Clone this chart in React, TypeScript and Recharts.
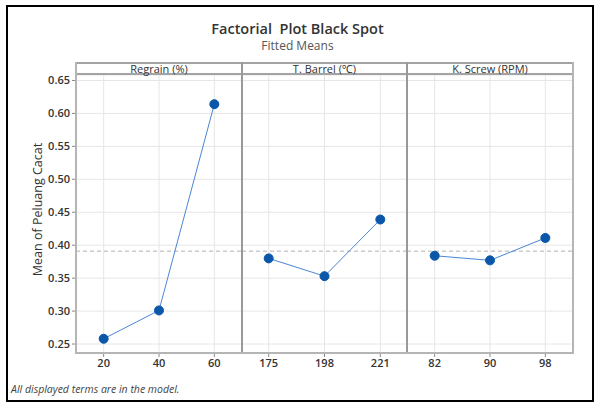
import { LineChart, Line, XAxis, YAxis, CartesianGrid, ReferenceLine } from 'recharts';

// factor levels and fitted means
const regrainLevels = [20, 40, 60];
const regrainMeans = [0.258, 0.301, 0.614];
const barrelLevels = [175, 198, 221];
const barrelMeans = [0.38, 0.353, 0.439];
const screwLevels = [82, 90, 98];
const screwMeans = [0.384, 0.377, 0.411];
const overallMean = 0.391;
const yTicks = [0.25, 0.3, 0.35, 0.4, 0.45, 0.5, 0.55, 0.6, 0.65];

const FONT = '"Open Sans", "Noto Sans", sans-serif';
const Y_DOMAIN: [number, number] = [0.2364, 0.6583];
const PLOT_TOP = 75;
const PLOT_H = 278;
const XAXIS_H = 26;
const PAD_TOP = 10;
const FRAME = '#a3a3a3';

type PanelProps = {
  levels: number[];
  means: number[];
  domain: [number, number];
  left: number;
  plotWidth: number;
  showY?: boolean;
};

const tickStyle = { fontSize: 11, fontWeight: 600, fill: '#333', fontFamily: FONT };

const Panel = ({ levels, means, domain, left, plotWidth, showY }: PanelProps) => {
  const data = levels.map((lv, i) => ({ x: lv, y: means[i] }));
  const yw = showY ? 49 : 0;
  return (
    <div style={{ position: 'absolute', left: left - yw, top: PLOT_TOP - PAD_TOP }}>
      <LineChart
        width={plotWidth + yw}
        height={PLOT_H + XAXIS_H + PAD_TOP}
        data={data}
        margin={{ top: PAD_TOP, right: 0, bottom: 0, left: 0 }}
      >
        <CartesianGrid stroke="#e6e6e6" strokeWidth={1} />
        <XAxis
          dataKey="x"
          type="number"
          domain={domain}
          ticks={levels}
          axisLine={false}
          tickLine={{ stroke: '#888' }}
          tickSize={4}
          height={XAXIS_H}
          tick={tickStyle}
          interval={0}
        />
        <YAxis
          type="number"
          domain={Y_DOMAIN}
          ticks={yTicks}
          hide={!showY}
          width={yw}
          axisLine={false}
          tickLine={{ stroke: '#888' }}
          tickSize={4}
          tick={tickStyle}
          tickFormatter={(v: number) => v.toFixed(2)}
          allowDataOverflow
        />
        <ReferenceLine y={overallMean} stroke="#b0b0b0" strokeDasharray="4 3" strokeWidth={1} />
        <Line
          dataKey="y"
          stroke="#4a86d8"
          strokeWidth={1}
          dot={{ r: 4.5, fill: '#0a56a8', stroke: '#0a56a8', strokeWidth: 1 }}
          isAnimationActive={false}
        />
      </LineChart>
    </div>
  );
};

const headers = ['Regrain (%)', 'T. Barrel (\u2103)', 'K. Screw (RPM)'];
const edges = [76, 242, 407, 573];

export default function App() {
  return (
    <div style={{ position: 'absolute', left: 0, top: 0, width: 595, height: 403, background: '#fff', fontFamily: FONT }}>
      <div style={{ position: 'absolute', left: 6, top: 5, width: 584, height: 393, border: '2px solid #000' }} />
      <div style={{ position: 'absolute', left: 0, width: 595, top: 19, textAlign: 'center', fontSize: 14.5, fontWeight: 600, color: '#333', whiteSpace: 'pre' }}>
        {'Factorial  Plot Black Spot'}
      </div>
      <div style={{ position: 'absolute', left: 0, width: 595, top: 37, textAlign: 'center', fontSize: 12, color: '#555' }}>
        Fitted Means
      </div>
      <div style={{ position: 'absolute', left: 37 - 100, top: 210 - 9, width: 200, textAlign: 'center', fontSize: 12.5, color: '#333', transform: 'rotate(-90deg)' }}>
        Mean of Peluang Cacat
      </div>

      <Panel levels={regrainLevels} means={regrainMeans} domain={[10, 70]} left={76} plotWidth={166} showY />
      <Panel levels={barrelLevels} means={barrelMeans} domain={[164, 232]} left={242} plotWidth={165} />
      <Panel levels={screwLevels} means={screwMeans} domain={[78, 102]} left={407} plotWidth={166} />

      {/* panel frames and header strip */}
      <div style={{ position: 'absolute', left: 76, top: 62, width: 573 - 76, height: 13, background: '#fff', borderTop: `2px solid ${FRAME}`, borderBottom: `2px solid ${FRAME}`, boxSizing: 'border-box' }} />
      {headers.map((h, i) => (
        <div key={h} style={{ position: 'absolute', left: edges[i], width: edges[i + 1] - edges[i], top: 61, textAlign: 'center', fontSize: 11, color: '#333', lineHeight: '15px' }}>
          {h}
        </div>
      ))}
      {edges.map((x, i) => (
        <div key={x} style={{ position: 'absolute', left: x - 1, top: 62, width: 2, height: 353 - 62, background: i === 0 || i === 3 ? '#b5b5b5' : '#999' }} />
      ))}
      <div style={{ position: 'absolute', left: 75, top: 352, width: 573 - 75 + 1, height: 2, background: '#b5b5b5' }} />

      <div style={{ position: 'absolute', left: 11, top: 382, fontSize: 10.5, fontStyle: 'italic', color: '#444' }}>
        All displayed terms are in the model.
      </div>
    </div>
  );
}
